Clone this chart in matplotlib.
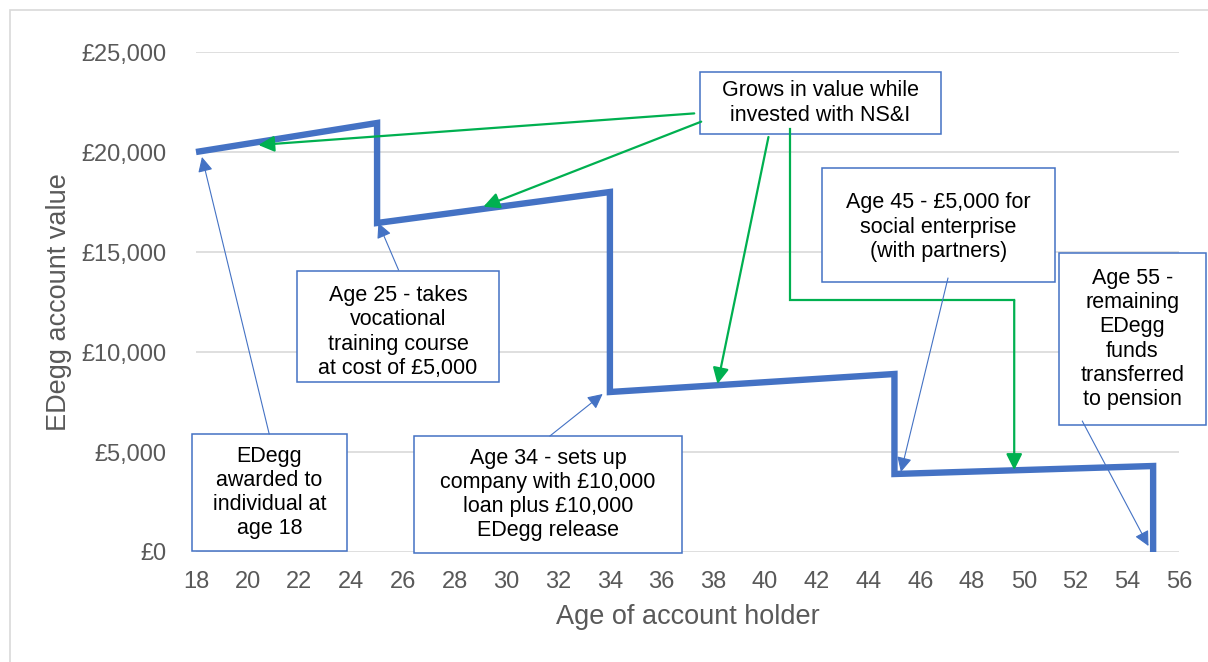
import matplotlib.pyplot as plt
from matplotlib.patches import Rectangle

# canvas size in pixels
W, H = 1208, 662

# account value at each age (steps are withdrawals)
ages = [18, 25, 25, 34, 34, 45, 45, 55, 55]
values = [20000, 21450, 16450, 18000, 8000, 8900, 3900, 4300, 0]

x_ticks = list(range(18, 57, 2))
y_ticks = [0, 5000, 10000, 15000, 20000, 25000]
y_labels = ['£0', '£5,000', '£10,000', '£15,000', '£20,000', '£25,000']

box_texts = {
    'grows': 'Grows in value while\ninvested with NS&I',
    'age45': 'Age 45 - £5,000 for\nsocial enterprise\n(with partners)',
    'age55': 'Age 55 -\nremaining\nEDegg\nfunds\ntransferred\nto pension',
    'age25': 'Age 25 - takes\nvocational\ntraining course\nat cost of £5,000',
    'edegg': 'EDegg\nawarded to\nindividual at\nage 18',
    'age34': 'Age 34 - sets up\ncompany with £10,000\nloan plus £10,000\nEDegg release',
}

BLUE = '#4472C4'
GREEN = '#00B050'
GREY = '#595959'
GRID = '#D9D9D9'

plt.rcParams['font.family'] = ['Liberation Sans', 'DejaVu Sans']

fig = plt.figure(figsize=(W / 100, H / 100), dpi=100)
ax = fig.add_axes([196 / W, 1 - 552 / H, (1179 - 196) / W, 500 / H])

ax.plot(ages, values, color=BLUE, lw=4.6, solid_joinstyle='miter',
        solid_capstyle='butt', zorder=2, clip_on=False)

ax.set_xlim(18, 56)
ax.set_ylim(0, 25000)
ax.set_xticks(x_ticks)
ax.set_yticks(y_ticks)
ax.set_yticklabels(y_labels)
ax.tick_params(length=0, labelsize=17, colors=GREY)
ax.tick_params(axis='y', pad=21)
ax.tick_params(axis='x', pad=14)
ax.grid(axis='y', color=GRID, lw=1.2)
ax.set_axisbelow(True)
for s in ax.spines.values():
    s.set_visible(False)

ax.set_xlabel('Age of account holder', fontsize=19.5, color=GREY)
ax.xaxis.set_label_coords(0.5, -0.13)
ax.set_ylabel('EDegg account value', fontsize=19.5, color=GREY)
ax.yaxis.set_label_coords(-(196 - 59) / 983, 0.5)
ax.yaxis.label.set_va('center')
ax.xaxis.label.set_va('center')


def fpx(x, y):
    return x / W, 1 - y / H


def box(x0, y0, x1, y1, text, tx=None, ty=None):
    xa, ya = fpx(x0, y1)
    ax.add_patch(Rectangle((xa, ya), (x1 - x0) / W, (y1 - y0) / H,
                           transform=fig.transFigure, clip_on=False,
                           facecolor='white', edgecolor=BLUE, lw=1.1, zorder=3))
    if tx is None:
        tx = (x0 + x1) / 2
    if ty is None:
        ty = (y0 + y1) / 2
    ax.text(*fpx(tx, ty), text, transform=fig.transFigure, ha='center',
            va='center', multialignment='center', fontsize=15.5,
            color='black', zorder=4, linespacing=1.2)


box(700, 72, 941, 134, box_texts['grows'])
box(822, 168, 1055, 282, box_texts['age45'], ty=227)
box(1059, 253, 1206, 425, box_texts['age55'])
box(297, 271, 499, 382, box_texts['age25'], ty=332)
box(192, 434, 347, 551, box_texts['edegg'])
box(414, 436, 682, 553, box_texts['age34'])


def arrow(tail, tip, color, lw, scale):
    ax.annotate('', xy=tip, xytext=tail,
                arrowprops=dict(arrowstyle='-|>,head_length=0.6,head_width=0.3',
                                color=color, lw=lw, mutation_scale=scale,
                                shrinkA=0, shrinkB=0),
                annotation_clip=False, zorder=5)


# green "growth" arrows
arrow((37.26, 21930), (20.41, 20350), GREEN, 1.6, 16)
arrow((37.53, 21517), (29.11, 17267), GREEN, 1.6, 16)
arrow((40.13, 20750), (38.16, 8400), GREEN, 1.6, 16)
ax.plot([40.98, 40.98, 49.63], [21150, 12600, 12600], color=GREEN, lw=1.6,
        clip_on=False, zorder=5, solid_joinstyle='miter')
arrow((49.63, 12600), (49.63, 4100), GREEN, 1.6, 16)

# blue event arrows
arrow((20.83, 5900), (18.23, 19750), BLUE, 0.8, 15)
arrow((25.83, 14100), (25.05, 16450), BLUE, 0.8, 15)
arrow((31.68, 5800), (33.72, 7900), BLUE, 0.8, 15)
arrow((47.07, 13700), (45.25, 4000), BLUE, 0.8, 15)
arrow((52.26, 6550), (54.82, 300), BLUE, 0.8, 15)

# outer chart frame
fig.add_artist(Rectangle((10 / W, -0.1), 1.2, 1.1 - 10 / H,
                         transform=fig.transFigure, fill=False,
                         edgecolor=GRID, lw=1.2))

fig.savefig('out.png', dpi=100)
